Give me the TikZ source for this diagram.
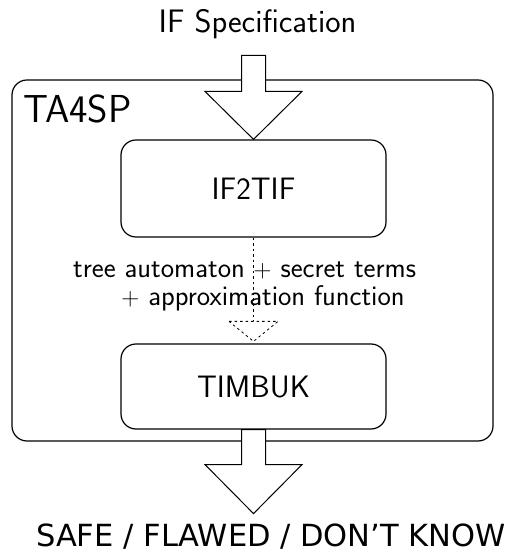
\documentclass[tikz,border=0pt]{standalone}
\usepackage{fontspec}
\newfontfamily\dejavu{DejaVu Sans}
\usetikzlibrary{positioning,calc}

\begin{document}
\begin{tikzpicture}[
    x=1pt, y=1pt,
    frame/.style={rectangle, draw, line width=1.2pt, rounded corners=15pt, minimum width=481pt, minimum height=361pt},
    block/.style={rectangle, draw, fill=white, line width=1.2pt, rounded corners=15pt, minimum width=265pt, font=\sffamily\fontsize{31}{37}\selectfont},
    bigarrow/.style={draw, fill=white, line width=1pt, line join=miter},
    flow/.style={line width=0.8pt, dash pattern=on 2.5pt off 3pt},
    signal/.style={font=\sffamily\fontsize{28.4}{28}\selectfont, align=left, inner sep=0pt},
    io/.style={font=\sffamily\fontsize{32.5}{37}\selectfont, inner sep=0pt}
]
\useasboundingbox (0,0) rectangle (509,554);

% Frame and blocks
\node[frame] (ta4sp) at (252.5,293.5) {};
\node[io, font=\sffamily\fontsize{39}{44}\selectfont, anchor=base west] (ta4sptitle) at (23,431) {TA4SP};
\node[block, minimum height=97pt] (if2tif) at (253.5,365.5) {IF2TIF};
\node[block, minimum height=85pt] (timbuk) at (253.5,167.5) {TIMBUK};

% Input / output
\node[io, anchor=base] (spec) at (257.5,521) {IF Specification};
\node[io, font=\dejavu\fontsize{30.5}{36}\selectfont, anchor=base] (verdict) at (271,7.3) {SAFE / FLAWED / DON’T KNOW};

% Big arrows
\draw[bigarrow] (if2tif.north) -- ++(48.5,48) -- ++(-36.5,0) -- ++(0,36) -- ++(-24,0) -- ++(0,-36) -- ++(-36.5,0) -- cycle;
\draw[bigarrow] (timbuk.south) ++(0,-84) -- ++(48.5,49) -- ++(-36.5,0) -- ++(0,35) -- ++(-24,0) -- ++(0,-35) -- ++(-36.5,0) -- cycle;

% Dotted link
\coordinate[above=22pt of timbuk.north] (headbase);
\draw[flow] (if2tif.south) -- (headbase);
\draw[flow] (headbase) ++(-24.5,0) -- ++(49,0) -- ($(timbuk.north)+(0,2)$) -- cycle;
\node[signal, anchor=base west] (carried) at (73,248) {tree automaton $+$ secret terms\\\hspace*{1.7em}$+$ approximation function};

\end{tikzpicture}
\end{document}
